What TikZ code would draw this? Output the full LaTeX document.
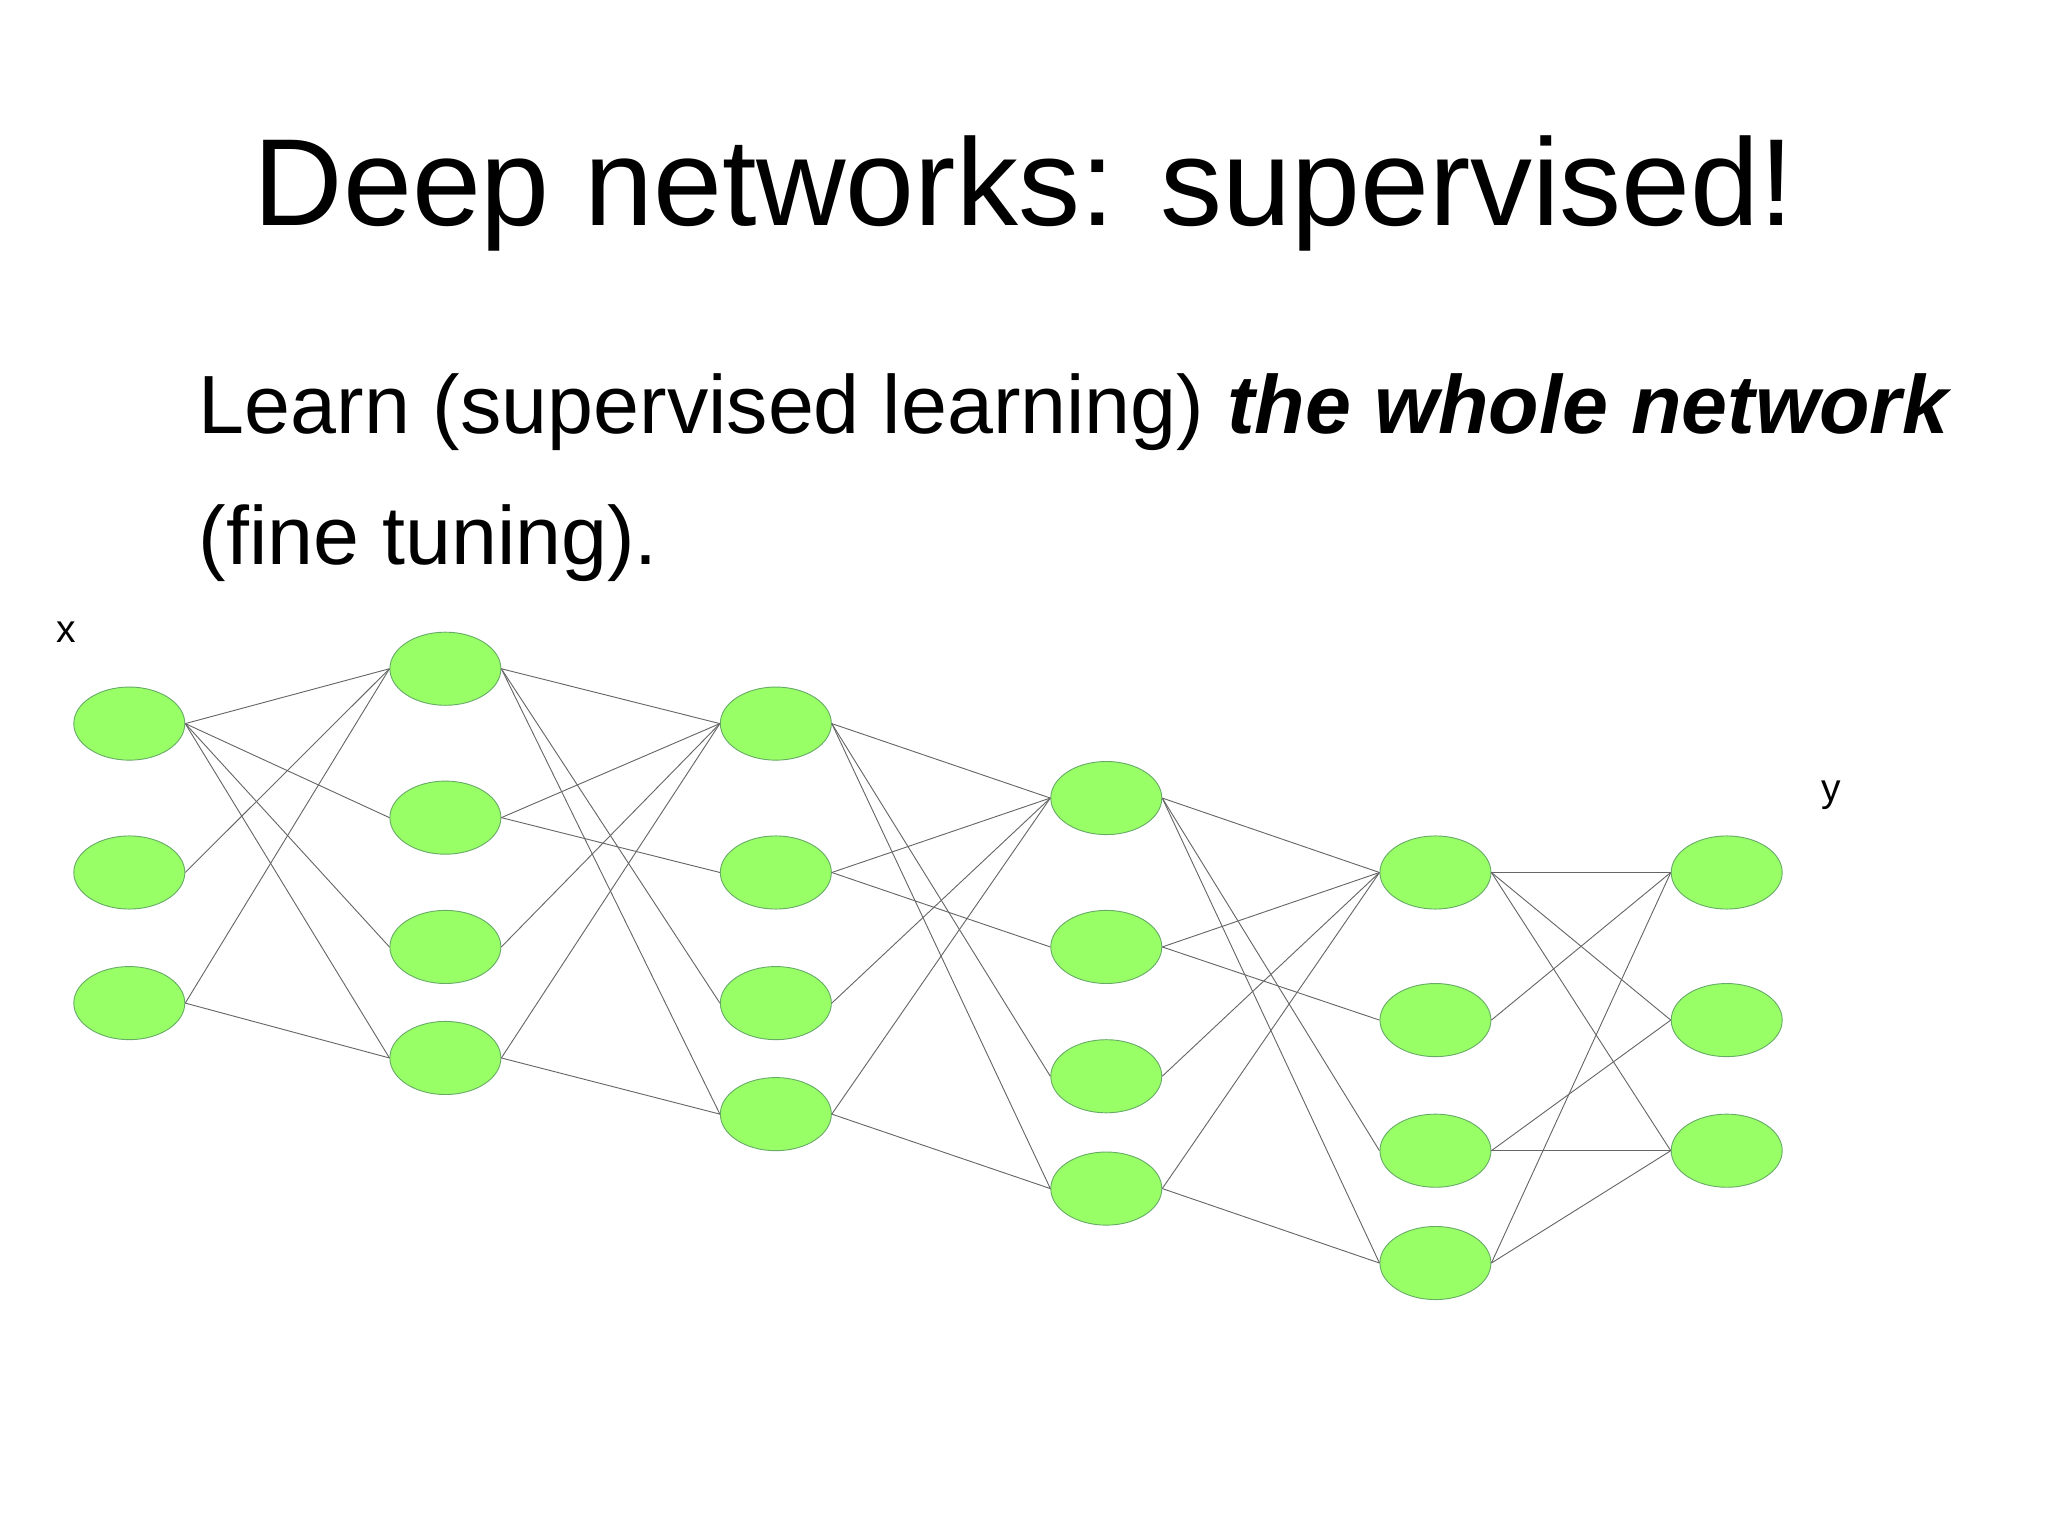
\documentclass[tikz,border=0pt]{standalone}
\usepackage{fontspec}
\setmainfont{Liberation Sans}
\usetikzlibrary{shapes.geometric}
\definecolor{unitgreen}{HTML}{99FF66}
\tikzset{
  unit/.style={ellipse, draw=green!45!black!60, fill=unitgreen, line width=0.4pt,
    minimum width=1.7cm, minimum height=1.12cm, inner sep=0pt},
  wire/.style={draw=black!60, line width=0.4pt}
}
\begin{document}
\begin{tikzpicture}[x=0.02cm,y=-0.02cm]
  \useasboundingbox (0,0) rectangle (1568,1176);
  \node at (784,148) {\fontsize{54}{60}\selectfont Deep networks: supervised!};
  \node[anchor=base west] at (146,332) {\fontsize{36}{40}\selectfont Learn (supervised learning) \textbf{\textit{the whole network}}};
  \node[anchor=base west] at (146,432) {\fontsize{36}{40}\selectfont (fine tuning).};
  \node (lx) at (51,484) {\fontsize{17}{20}\selectfont x};
  \node (ly) at (1402,609) {\fontsize{17}{20}\selectfont y};

  % layers
  \foreach \i/\y in {1/554,2/668,3/768} \node[unit] (a\i) at (99,\y) {};
  \foreach \i/\y in {1/512,2/626,3/725,4/810} \node[unit] (b\i) at (341,\y) {};
  \foreach \i/\y in {1/554,2/668,3/768,4/853} \node[unit] (c\i) at (594,\y) {};
  \foreach \i/\y in {1/611,2/725,3/824,4/910} \node[unit] (d\i) at (847,\y) {};
  \foreach \i/\y in {1/668,2/781,3/881,4/967} \node[unit] (e\i) at (1099,\y) {};
  \foreach \i/\y in {1/668,2/781,3/881} \node[unit] (f\i) at (1322,\y) {};

  % connections
  \foreach \t in {1,2,3,4} \draw[wire] (a1.east) -- (b\t.west);
  \draw[wire] (a2.east) -- (b1.west);
  \draw[wire] (a3.east) -- (b1.west);
  \draw[wire] (a3.east) -- (b4.west);
  \foreach \p/\q in {b/c,c/d,d/e}{
    \foreach \t in {1,3,4} \draw[wire] (\p1.east) -- (\q\t.west);
    \draw[wire] (\p2.east) -- (\q1.west);
    \draw[wire] (\p2.east) -- (\q2.west);
    \draw[wire] (\p3.east) -- (\q1.west);
    \draw[wire] (\p4.east) -- (\q1.west);
    \draw[wire] (\p4.east) -- (\q4.west);
  }
  \foreach \t in {1,2,3} \draw[wire] (e1.east) -- (f\t.west);
  \draw[wire] (e2.east) -- (f1.west);
  \draw[wire] (e3.east) -- (f2.west);
  \draw[wire] (e3.east) -- (f3.west);
  \draw[wire] (e4.east) -- (f1.west);
  \draw[wire] (e4.east) -- (f3.west);
\end{tikzpicture}
\end{document}
